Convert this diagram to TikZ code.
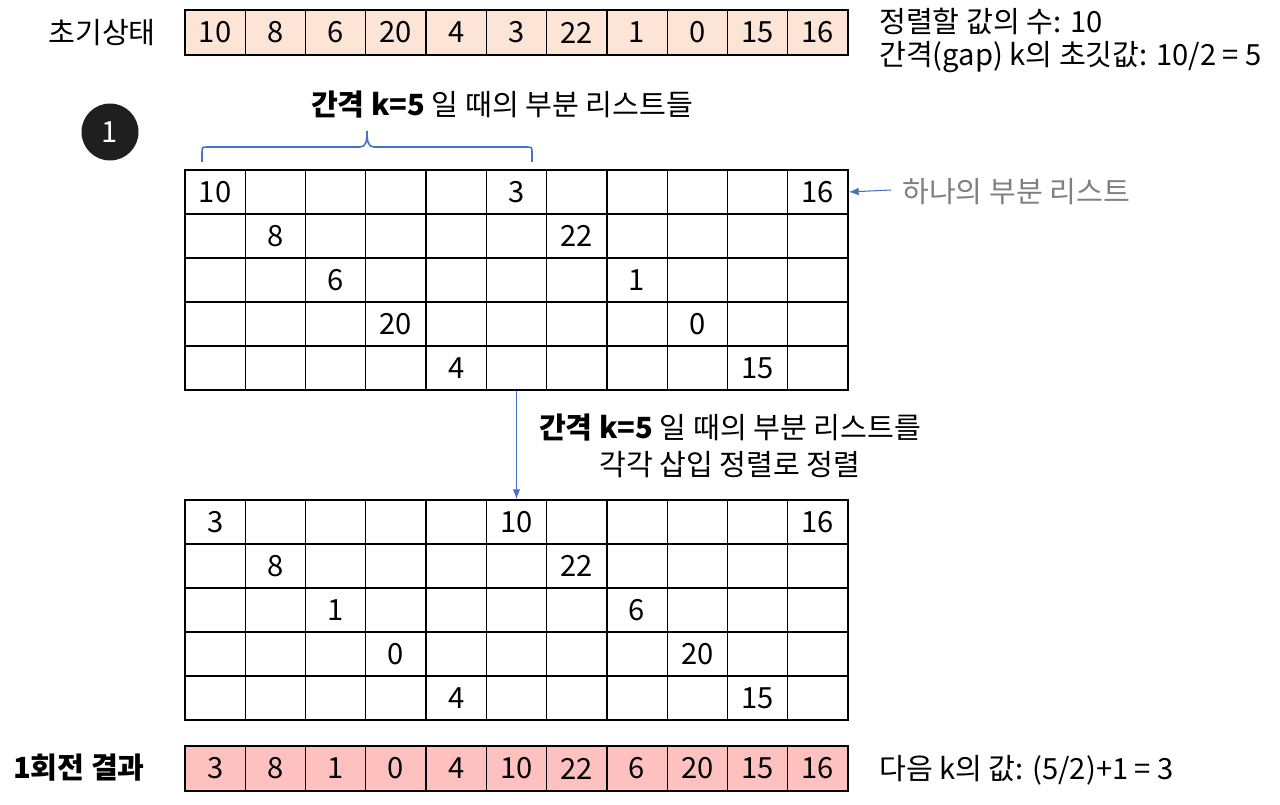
\documentclass[tikz,border=0pt]{standalone}
\usepackage{fontspec}
\setmainfont{Noto Sans CJK KR}
\usetikzlibrary{arrows.meta,positioning}

\definecolor{peach}{RGB}{252,228,214}
\definecolor{rosy}{RGB}{255,192,192}
\definecolor{lineblue}{RGB}{68,114,196}
\definecolor{labelgray}{RGB}{128,128,128}

\begin{document}
\begin{tikzpicture}[
  x=0.02cm, y=-0.02cm, >=Latex,
  font=\fontsize{16.6}{21}\selectfont,
  cell/.style={draw,line width=0.75pt,minimum width=1.2054cm,minimum height=0.88cm,inner sep=0pt},
  rowcell/.style={cell,minimum height=0.9cm},
  link/.style={->,lineblue,line width=0.6pt},
  brace/.style={lineblue,line width=0.9pt},
  stepno/.style={circle,fill=black!88,text=white,minimum size=1.14cm,inner sep=0pt},
]
\useasboundingbox (0,0) rectangle (1280,804);

% ---- initial state ----
\node[anchor=east] (init) at (162,33) {초기상태};
\foreach \v [count=\i from 0] in {10,8,6,20,4,3,22,1,0,15,16}
  \node[rowcell,fill=peach] (s\i) at (215.14+60.27*\i,32.5) {\v};
\node[anchor=west] (count) at (873,21) {정렬할 값의 수: 10};
\node[anchor=west] (gap) at (873,57) {간격(gap) k의 초깃값: 10/2 = 5};

% ---- step 1: sub-lists for k=5 ----
\node[stepno] (one) at (110,132) {1};
\node (title) at (502,105) {\textbf{간격 k=5} 일 때의 부분 리스트들};
\draw[brace] (202,162) -- (202,153) .. controls (202,147) .. (208,147) -- (360,147)
  .. controls (366,147) and (367,141) .. (367,131) .. controls (367,141) and (368,147) .. (374,147)
  -- (526,147) .. controls (532,147) .. (532,153) -- (532,162);

\foreach \v [count=\i from 0] in {10,8,6,20,4,3,22,1,0,15,16}{
  \pgfmathtruncatemacro\m{mod(\i,5)}
  \foreach \r in {0,...,4}{
    \ifnum\r=\m\relax\def\celltxt{\v}\else\def\celltxt{}\fi
    \node[cell] (a\i-\r) at (215.14+60.27*\i,192+44*\r) {\celltxt};
  }
}
\coordinate (tail) at (891,190);
\draw[link] (tail) -- (a10-0.east);
\node[anchor=west,text=labelgray] (sub) at (896,192) {하나의 부분 리스트};

% ---- insertion sort on each sub-list ----
\node[align=center] (sortnote) at (730,446) {\textbf{간격 k=5} 일 때의 부분 리스트를\\각각 삽입 정렬로 정렬};

\foreach \v [count=\i from 0] in {3,8,1,0,4,10,22,6,20,15,16}{
  \pgfmathtruncatemacro\m{mod(\i,5)}
  \foreach \r in {0,...,4}{
    \ifnum\r=\m\relax\def\celltxt{\v}\else\def\celltxt{}\fi
    \node[cell] (b\i-\r) at (215.14+60.27*\i,522+44*\r) {\celltxt};
  }
}
\draw[link] (a5-4.south) -- (b5-0.north);

% ---- result of pass 1 ----
\node[anchor=east,font=\fontsize{16.6}{21}\selectfont\bfseries] (result) at (151,768) {1회전 결과};
\foreach \v [count=\i from 0] in {3,8,1,0,4,10,22,6,20,15,16}
  \node[rowcell,fill=rosy] (e\i) at (215.14+60.27*\i,768.5) {\v};
\node[anchor=west] (next) at (873,770) {다음 k의 값: (5/2)+1 = 3};
\end{tikzpicture}
\end{document}
